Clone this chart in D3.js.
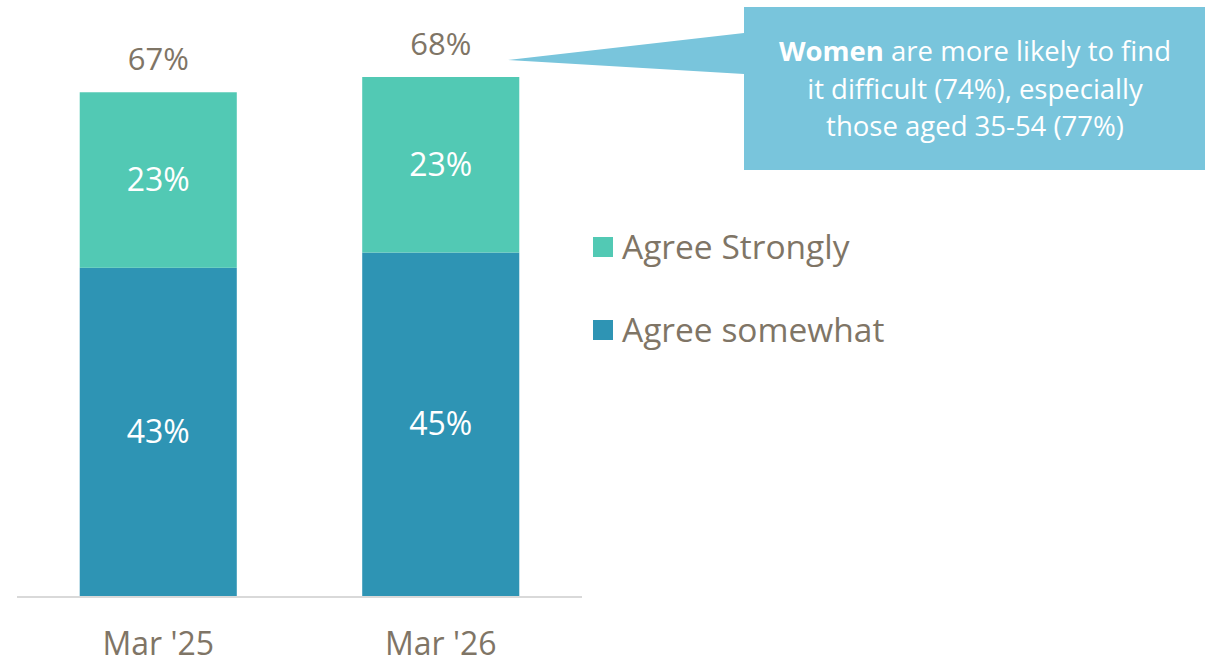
<!DOCTYPE html>
<html>
<head>
<meta charset="utf-8">
<script src="https://cdn.jsdelivr.net/npm/d3@7"></script>
<style>
  html, body { margin: 0; padding: 0; background: #fff; }
  svg { display: block; font-family: "Open Sans", sans-serif; }
</style>
</head>
<body>
<script>
// chart data
const categories = ["Mar '25", "Mar '26"];
const agreeSomewhat = [43, 45];
const agreeStrongly = [23, 23];
const totals = [67, 68];
const seriesNames = ["Agree Strongly", "Agree somewhat"];
const calloutLines = [
  [["Women", true], [" are more likely to find", false]],
  [["it difficult (74%), especially", false]],
  [["those aged 35-54 (77%)", false]]
];

let width = 1211, height = 665;

const colStrong = "#52c9b4", colSome = "#2e94b4", textCol = "#7f7566";

let svg = d3.select("body").append("svg")
  .attr("width", width)
  .attr("height", height);

// scales
let x = d3.scaleBand()
  .domain(categories)
  .range([17, 582])
  .paddingInner(0.444)
  .paddingOuter(0.222);

let y = d3.scaleLinear()
  .domain([0, 68])
  .range([596, 77]);

// stack the two series
let rows = categories.map((c, i) => ({ cat: c, somewhat: agreeSomewhat[i], strongly: agreeStrongly[i] }));
let stacked = d3.stack().keys(["somewhat", "strongly"])(rows);
let colors = { somewhat: colSome, strongly: colStrong };

let layers = svg.append("g")
  .selectAll("g")
  .data(stacked)
  .join("g")
  .attr("fill", d => colors[d.key]);

layers.selectAll("rect")
  .data(d => d)
  .join("rect")
  .attr("x", d => x(d.data.cat))
  .attr("width", x.bandwidth())
  .attr("y", d => y(d[1]))
  .attr("height", d => y(d[0]) - y(d[1]));

// segment labels
layers.selectAll("text")
  .data(d => d)
  .join("text")
  .attr("x", d => x(d.data.cat) + x.bandwidth() / 2)
  .attr("y", d => (y(d[0]) + y(d[1])) / 2)
  .attr("dy", "0.35em")
  .attr("text-anchor", "middle")
  .attr("fill", "#fff")
  .attr("font-size", 32)
  .text(d => (d[1] - d[0]) + "%");

// totals on top
svg.append("g")
  .selectAll("text")
  .data(categories)
  .join("text")
  .attr("x", d => x(d) + x.bandwidth() / 2)
  .attr("y", (d, i) => y(agreeSomewhat[i] + agreeStrongly[i]) - 22)
  .attr("text-anchor", "middle")
  .attr("fill", textCol)
  .attr("font-size", 31)
  .text((d, i) => totals[i] + "%");

// baseline
svg.append("line")
  .attr("x1", 17).attr("x2", 582)
  .attr("y1", y(0) + 1).attr("y2", y(0) + 1)
  .attr("stroke", "#d9d9d9")
  .attr("stroke-width", 2);

// category axis labels
svg.append("g")
  .selectAll("text")
  .data(categories)
  .join("text")
  .attr("x", d => x(d) + x.bandwidth() / 2)
  .attr("y", 655)
  .attr("text-anchor", "middle")
  .attr("fill", textCol)
  .attr("font-size", 32)
  .text(d => d);

// legend
let legend = svg.append("g")
  .selectAll("g")
  .data(seriesNames)
  .join("g")
  .attr("transform", (d, i) => `translate(593, ${237 + i * 83})`);

legend.append("rect")
  .attr("width", 20).attr("height", 20)
  .attr("fill", (d, i) => i === 0 ? colStrong : colSome);

legend.append("text")
  .attr("x", 29)
  .attr("y", 10)
  .attr("dy", "0.36em")
  .attr("fill", textCol)
  .attr("font-size", 33.5)
  .text(d => d);

// callout box with pointer
let callout = svg.append("g");
callout.append("path")
  .attr("d", "M744,7 H1205 V170 H744 V74 L508,60 L744,33 Z")
  .attr("fill", "#79c5dc");

let ct = callout.append("text")
  .attr("text-anchor", "middle")
  .attr("fill", "#fff")
  .attr("font-size", 27.5);

calloutLines.forEach((line, i) => {
  let t = ct.append("tspan")
    .attr("x", 975)
    .attr("y", 61 + i * 37.5);
  line.forEach(([s, bold], j) => {
    let sp = j === 0 ? t : ct.append("tspan");
    sp.text(s).attr("font-weight", bold ? 700 : 400);
  });
});
</script>
</body>
</html>
